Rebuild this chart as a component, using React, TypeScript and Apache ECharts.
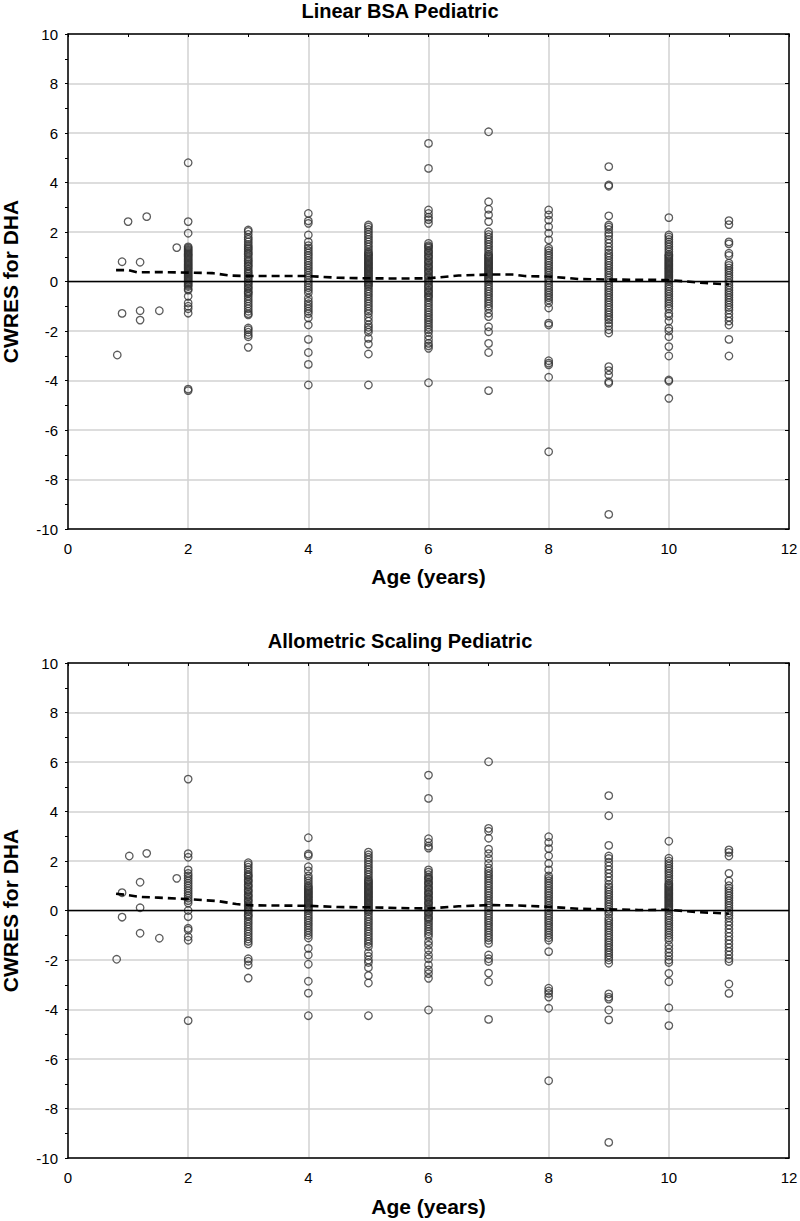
import React, { useEffect, useRef } from "react";
import * as echarts from "echarts";

// ---------- Data: Linear BSA Pediatric ----------
const titles = ["Linear BSA Pediatric", "Allometric Scaling Pediatric"];
const xName = "Age (years)";
const yName = "CWRES for DHA";
const ages = [2, 3, 4, 5, 6, 7, 8, 9, 10, 11];
const zeroLine = [[0, 0], [12, 0]];

const linEarly = [[0.82, -2.97], [0.9, 0.8], [0.9, -1.29], [1.0, 2.42], [1.2, 0.78], [1.2, -1.18], [1.2, -1.56], [1.31, 2.62], [1.52, -1.18], [1.81, 1.37]];
const linAge2 = [4.8, 2.42, 1.95, 1.4, 1.35, 1.3, 1.25, 1.2, 1.15, 1.1, 1.05, 1.0, 0.95, 0.9, 0.85, 0.8, 0.75, 0.7, 0.65, 0.6, 0.55, 0.5, 0.45, 0.4, 0.35, 0.3, 0.25, 0.2, 0.15, 0.1, 0.05, 0.0, -0.05, -0.1, -0.15, -0.2, -0.3, -0.35, -0.6, -0.87, -1.0, -1.1, -1.28, -4.35, -4.41];
const linAge3 = [2.08, 2.02, 1.9, 1.78, 1.7, 1.6, 1.5, 1.42, 1.35, 1.3, 1.22, 1.15, 1.1, 1.0, 0.92, 0.85, 0.8, 0.72, 0.65, 0.6, 0.5, 0.42, 0.35, 0.3, 0.22, 0.15, 0.1, 0.02, -0.05, -0.1, -0.18, -0.25, -0.3, -0.4, -0.45, -0.5, -0.6, -0.7, -0.8, -0.9, -1.0, -1.1, -1.2, -1.3, -1.35, -1.88, -1.95, -2.05, -2.15, -2.23, -2.66];
const linAge4 = [2.75, 2.45, 2.35, 1.88, 1.6, 1.45, 1.35, 1.25, 1.15, 1.05, 0.95, 0.85, 0.75, 0.65, 0.55, 0.45, 0.35, 0.25, 0.15, 0.05, -0.05, -0.15, -0.25, -0.35, -0.46, -0.67, -0.8, -0.9, -1.0, -1.1, -1.2, -1.3, -1.47, -1.76, -2.34, -2.87, -3.35, -4.18];
const linAge5 = [2.28, 2.2, 2.1, 2.0, 1.9, 1.8, 1.7, 1.6, 1.5, 1.4, 1.3, 1.2, 1.15, 1.1, 1.05, 1.0, 0.95, 0.9, 0.85, 0.8, 0.75, 0.7, 0.65, 0.6, 0.55, 0.5, 0.45, 0.4, 0.35, 0.3, 0.25, 0.2, 0.15, 0.1, 0.05, 0.0, -0.05, -0.1, -0.15, -0.2, -0.3, -0.4, -0.5, -0.6, -0.7, -0.8, -0.9, -1.0, -1.1, -1.2, -1.3, -1.45, -1.6, -1.75, -1.85, -1.95, -2.05, -2.3, -2.53, -2.93, -4.18];
const linAge6 = [5.58, 4.57, 2.89, 2.75, 2.6, 2.5, 2.35, 1.54, 1.45, 1.4, 1.35, 1.25, 1.2, 1.15, 1.05, 1.0, 0.95, 0.85, 0.8, 0.75, 0.65, 0.6, 0.55, 0.45, 0.4, 0.35, 0.25, 0.2, 0.15, 0.05, 0.0, -0.05, -0.15, -0.2, -0.25, -0.35, -0.4, -0.45, -0.55, -0.6, -0.65, -0.75, -0.85, -0.95, -1.05, -1.15, -1.25, -1.35, -1.45, -1.55, -1.65, -1.75, -1.85, -1.95, -2.05, -2.2, -2.35, -2.5, -2.6, -2.7, -4.09];
const linAge7 = [6.05, 3.22, 2.92, 2.69, 2.42, 2.01, 1.9, 1.8, 1.7, 1.6, 1.5, 1.4, 1.3, 1.2, 1.1, 1.05, 1.0, 0.95, 0.9, 0.85, 0.8, 0.75, 0.7, 0.65, 0.6, 0.55, 0.5, 0.45, 0.4, 0.35, 0.3, 0.25, 0.2, 0.15, 0.1, 0.05, 0.0, -0.1, -0.2, -0.3, -0.4, -0.5, -0.6, -0.7, -0.8, -0.9, -1.0, -1.1, -1.28, -1.42, -1.83, -2.03, -2.5, -2.87, -4.41];
const linAge8 = [2.89, 2.69, 2.48, 2.21, 1.95, 1.68, 1.35, 1.25, 1.15, 1.05, 0.95, 0.85, 0.75, 0.65, 0.55, 0.45, 0.35, 0.25, 0.15, 0.05, -0.05, -0.15, -0.25, -0.35, -0.45, -0.55, -0.65, -0.75, -0.87, -1.07, -1.68, -1.76, -3.2, -3.3, -3.37, -3.87, -6.88];
const linAge9 = [4.64, 3.9, 3.85, 2.65, 2.28, 2.2, 2.1, 1.95, 1.85, 1.7, 1.55, 1.4, 1.27, 1.15, 1.05, 0.95, 0.85, 0.75, 0.65, 0.55, 0.45, 0.35, 0.25, 0.15, 0.05, -0.05, -0.15, -0.25, -0.35, -0.45, -0.55, -0.65, -0.75, -0.85, -0.95, -1.05, -1.15, -1.25, -1.35, -1.45, -1.55, -1.68, -1.8, -1.95, -2.08, -3.44, -3.6, -3.78, -4.05, -4.11, -9.41];
const linAge10 = [2.58, 1.88, 1.8, 1.7, 1.6, 1.5, 1.4, 1.3, 1.2, 1.1, 1.05, 1.0, 0.95, 0.9, 0.85, 0.8, 0.75, 0.7, 0.65, 0.6, 0.55, 0.5, 0.45, 0.4, 0.35, 0.3, 0.25, 0.2, 0.15, 0.1, 0.05, 0.0, -0.1, -0.2, -0.3, -0.4, -0.5, -0.6, -0.7, -0.8, -0.9, -1.0, -1.1, -1.29, -1.4, -1.6, -1.89, -2.0, -2.23, -2.63, -3.01, -3.98, -4.03, -4.72];
const linAge11 = [2.46, 2.3, 1.6, 1.52, 1.14, 1.05, 0.74, 0.65, 0.55, 0.45, 0.35, 0.25, 0.15, 0.05, -0.05, -0.15, -0.25, -0.35, -0.45, -0.55, -0.65, -0.75, -0.85, -0.95, -1.05, -1.15, -1.3, -1.45, -1.6, -1.76, -2.34, -3.01];
const linSmooth = [[0.8, 0.46], [1.0, 0.46], [1.15, 0.37], [1.5, 0.38], [2.0, 0.36], [2.4, 0.34], [2.7, 0.24], [3.0, 0.22], [4.0, 0.22], [4.5, 0.15], [5.0, 0.13], [5.5, 0.12], [6.0, 0.13], [6.5, 0.24], [7.0, 0.28], [7.4, 0.28], [7.6, 0.22], [8.0, 0.2], [8.5, 0.1], [9.0, 0.08], [9.5, 0.07], [10.0, 0.06], [10.3, 0.0], [10.6, -0.06], [11.0, -0.12]];

// ---------- Data: Allometric Scaling Pediatric ----------
const alloEarly = [[0.81, -1.97], [0.9, 0.72], [0.9, -0.27], [1.02, 2.2], [1.2, 1.14], [1.2, 0.11], [1.2, -0.92], [1.31, 2.31], [1.52, -1.12], [1.81, 1.3]];
const alloAge2 = [5.31, 2.3, 2.15, 1.64, 1.5, 1.4, 1.3, 1.2, 1.1, 1.0, 0.9, 0.8, 0.7, 0.6, 0.5, 0.4, 0.3, 0.0, -0.25, -0.72, -0.8, -1.06, -1.2, -4.45];
const alloAge3 = [1.93, 1.85, 1.75, 1.65, 1.55, 1.45, 1.4, 1.35, 1.25, 1.2, 1.15, 1.05, 1.0, 0.95, 0.85, 0.8, 0.75, 0.65, 0.6, 0.55, 0.45, 0.4, 0.35, 0.25, 0.2, 0.15, 0.05, 0.0, -0.05, -0.15, -0.2, -0.25, -0.35, -0.45, -0.55, -0.65, -0.75, -0.85, -0.95, -1.05, -1.15, -1.25, -1.35, -1.95, -2.05, -2.2, -2.73];
const alloAge4 = [2.94, 2.28, 2.21, 1.77, 1.6, 1.4, 1.3, 1.2, 1.1, 1.0, 0.95, 0.9, 0.85, 0.8, 0.75, 0.7, 0.65, 0.6, 0.55, 0.5, 0.45, 0.4, 0.35, 0.3, 0.25, 0.2, 0.15, 0.1, 0.05, 0.0, -0.1, -0.2, -0.3, -0.4, -0.5, -0.6, -0.7, -0.8, -0.9, -1.0, -1.11, -1.53, -1.8, -2.17, -2.86, -3.34, -4.25];
const alloAge5 = [2.36, 2.25, 2.15, 2.05, 1.95, 1.85, 1.75, 1.65, 1.55, 1.45, 1.35, 1.25, 1.2, 1.15, 1.1, 1.05, 1.0, 0.95, 0.9, 0.85, 0.8, 0.75, 0.7, 0.65, 0.6, 0.55, 0.5, 0.45, 0.4, 0.35, 0.3, 0.25, 0.2, 0.15, 0.1, 0.05, 0.0, -0.05, -0.15, -0.25, -0.35, -0.45, -0.55, -0.65, -0.75, -0.85, -0.95, -1.05, -1.15, -1.25, -1.35, -1.46, -1.7, -1.85, -2.0, -2.1, -2.31, -2.63, -2.93, -4.25];
const alloAge6 = [5.47, 4.53, 2.9, 2.75, 2.6, 2.52, 1.64, 1.55, 1.45, 1.35, 1.3, 1.25, 1.15, 1.1, 1.05, 0.95, 0.9, 0.85, 0.75, 0.7, 0.65, 0.55, 0.5, 0.45, 0.35, 0.3, 0.25, 0.15, 0.1, 0.05, -0.05, -0.1, -0.15, -0.25, -0.3, -0.35, -0.45, -0.55, -0.65, -0.75, -0.85, -0.95, -1.05, -1.26, -1.4, -1.6, -1.8, -1.95, -2.2, -2.4, -2.55, -2.74, -4.02];
const alloAge7 = [6.01, 3.32, 3.2, 2.92, 2.48, 2.3, 2.1, 1.9, 1.72, 1.6, 1.5, 1.4, 1.3, 1.2, 1.1, 1.0, 0.9, 0.8, 0.7, 0.6, 0.5, 0.4, 0.3, 0.2, 0.1, 0.0, -0.1, -0.2, -0.3, -0.4, -0.5, -0.6, -0.7, -0.8, -0.9, -1.0, -1.1, -1.2, -1.33, -1.8, -1.95, -2.06, -2.53, -2.88, -4.4];
const alloAge8 = [2.98, 2.75, 2.5, 2.2, 1.9, 1.64, 1.4, 1.3, 1.2, 1.1, 1.0, 0.9, 0.8, 0.7, 0.6, 0.5, 0.4, 0.3, 0.2, 0.1, 0.0, -0.1, -0.2, -0.3, -0.4, -0.5, -0.6, -0.7, -0.8, -0.9, -1.0, -1.1, -1.2, -1.66, -3.14, -3.25, -3.35, -3.5, -3.95, -6.88];
const alloAge9 = [4.64, 3.83, 2.63, 2.2, 2.1, 1.95, 1.8, 1.65, 1.5, 1.35, 1.2, 1.05, 0.95, 0.85, 0.75, 0.65, 0.55, 0.45, 0.35, 0.25, 0.15, 0.05, -0.05, -0.15, -0.3, -0.4, -0.5, -0.6, -0.7, -0.8, -0.9, -1.0, -1.1, -1.2, -1.3, -1.4, -1.5, -1.6, -1.7, -1.8, -1.9, -2.0, -2.13, -3.37, -3.5, -3.58, -4.02, -4.42, -9.37];
const alloAge10 = [2.8, 2.11, 2.0, 1.9, 1.8, 1.7, 1.6, 1.5, 1.4, 1.3, 1.2, 1.1, 1.05, 1.0, 0.95, 0.9, 0.85, 0.8, 0.75, 0.7, 0.65, 0.6, 0.55, 0.5, 0.45, 0.4, 0.35, 0.3, 0.25, 0.2, 0.15, 0.1, 0.05, 0.0, -0.1, -0.2, -0.3, -0.4, -0.5, -0.6, -0.7, -0.8, -0.9, -1.0, -1.1, -1.2, -1.4, -1.55, -1.7, -1.85, -2.0, -2.1, -2.54, -2.88, -3.93, -4.65];
const alloAge11 = [2.45, 2.35, 2.2, 1.5, 1.19, 1.0, 0.9, 0.8, 0.7, 0.6, 0.5, 0.4, 0.3, 0.2, 0.1, 0.0, -0.1, -0.2, -0.3, -0.45, -0.6, -0.75, -0.9, -1.05, -1.2, -1.35, -1.5, -1.65, -1.8, -1.95, -2.06, -2.97, -3.35];
const alloSmooth = [[0.8, 0.68], [1.0, 0.62], [1.2, 0.55], [1.5, 0.52], [2.0, 0.46], [2.5, 0.38], [2.8, 0.26], [3.0, 0.21], [4.0, 0.19], [4.5, 0.14], [5.0, 0.13], [5.5, 0.1], [6.0, 0.08], [6.5, 0.17], [7.0, 0.22], [7.5, 0.2], [8.0, 0.15], [8.5, 0.07], [9.0, 0.05], [9.5, 0.02], [10.0, 0.03], [10.5, -0.07], [10.8, -0.1], [11.0, -0.13]];

const linColumns = [linAge2, linAge3, linAge4, linAge5, linAge6, linAge7, linAge8, linAge9, linAge10, linAge11];
const alloColumns = [alloAge2, alloAge3, alloAge4, alloAge5, alloAge6, alloAge7, alloAge8, alloAge9, alloAge10, alloAge11];

function toPoints(early: number[][], cols: number[][]) {
  const pts: number[][] = early.map((p) => [p[0], p[1]]);
  cols.forEach((ys, i) => ys.forEach((y) => pts.push([ages[i], y])));
  return pts;
}

const FONT = "'Liberation Sans', Arial, Helvetica, sans-serif";

export default function App() {
  const ref = useRef<HTMLDivElement>(null);
  useEffect(() => {
    if (!ref.current) return;
    const chart = echarts.init(ref.current, undefined, { renderer: "svg" });
    const gridTops = [34, 663];
    const titleTops = [1, 631];
    const nameGaps = [37, 38];
    const panels = [
      { pts: toPoints(linEarly, linColumns), smooth: linSmooth },
      { pts: toPoints(alloEarly, alloColumns), smooth: alloSmooth },
    ];
    const xAxes: any[] = [];
    const yAxes: any[] = [];
    const series: any[] = [];
    panels.forEach((p, i) => {
      xAxes.push({
        gridIndex: i, type: "value", position: "bottom", min: 0, max: 12, interval: 2,
        axisLine: { show: true, onZero: false, lineStyle: { color: "#000", width: 1.5 } },
        axisTick: { show: false },
        axisLabel: { color: "#000", fontSize: 15, fontFamily: FONT, margin: 12 },
        splitLine: { show: true, lineStyle: { color: "#d2d2d2", width: 1.5 } },
        name: xName, nameLocation: "middle", nameGap: nameGaps[i],
        nameTextStyle: { color: "#000", fontSize: 21, fontWeight: "bold", fontFamily: FONT },
      });
      xAxes.push({
        gridIndex: i, type: "value", position: "top", min: 0, max: 12, interval: 1,
        axisLine: { show: true, onZero: false, lineStyle: { color: "#000", width: 1.5 } },
        axisTick: { show: true, inside: true, length: 3, lineStyle: { color: "#000" } },
        axisLabel: { show: false }, splitLine: { show: false },
      });
      yAxes.push({
        gridIndex: i, type: "value", position: "left", min: -10, max: 10, interval: 2,
        axisLine: { show: true, onZero: false, lineStyle: { color: "#000", width: 1.5 } },
        axisTick: { show: true, length: 3, lineStyle: { color: "#000" } },
        minorTick: { show: true, splitNumber: 2, length: 3, lineStyle: { color: "#000" } },
        axisLabel: { color: "#000", fontSize: 15, fontFamily: FONT, margin: 10 },
        splitLine: { show: true, lineStyle: { color: "#d2d2d2", width: 1.5 } },
        name: yName, nameLocation: "middle", nameGap: 47, nameRotate: 90,
        nameTextStyle: { color: "#000", fontSize: 21, fontWeight: "bold", fontFamily: FONT },
      });
      yAxes.push({
        gridIndex: i, type: "value", position: "right", min: -10, max: 10, interval: 2,
        axisLine: { show: true, onZero: false, lineStyle: { color: "#000", width: 1.5 } },
        axisTick: { show: true, inside: true, length: 4, lineStyle: { color: "#000" } },
        axisLabel: { show: false }, splitLine: { show: false },
      });
      series.push({
        type: "scatter", xAxisIndex: 2 * i, yAxisIndex: 2 * i, data: p.pts,
        symbol: "circle", symbolSize: 7.5, z: 2,
        itemStyle: { color: "rgba(255,255,255,0)", borderColor: "#333", borderWidth: 1.3 },
      });
      series.push({
        type: "line", xAxisIndex: 2 * i, yAxisIndex: 2 * i, data: zeroLine,
        symbol: "none", z: 3, lineStyle: { color: "#000", width: 1.6 },
      });
      series.push({
        type: "line", xAxisIndex: 2 * i, yAxisIndex: 2 * i, data: p.smooth,
        symbol: "none", z: 4, lineStyle: { color: "#000", width: 2.6, type: [8, 5] },
      });
    });
    chart.setOption({
      animation: false,
      backgroundColor: "#fff",
      title: titles.map((t, i) => ({
        text: t, left: "center", top: titleTops[i], padding: 0,
        textStyle: { color: "#000", fontSize: 20, fontWeight: "bold", fontFamily: FONT },
      })),
      grid: gridTops.map((t) => ({
        left: 68, width: 721, top: t, height: 495, containLabel: false, outerBoundsMode: "none",
      })),
      xAxis: xAxes,
      yAxis: yAxes,
      series,
    });
    return () => chart.dispose();
  }, []);
  return <div ref={ref} style={{ position: "absolute", left: 0, top: 0, width: 800, height: 1221 }} />;
}
